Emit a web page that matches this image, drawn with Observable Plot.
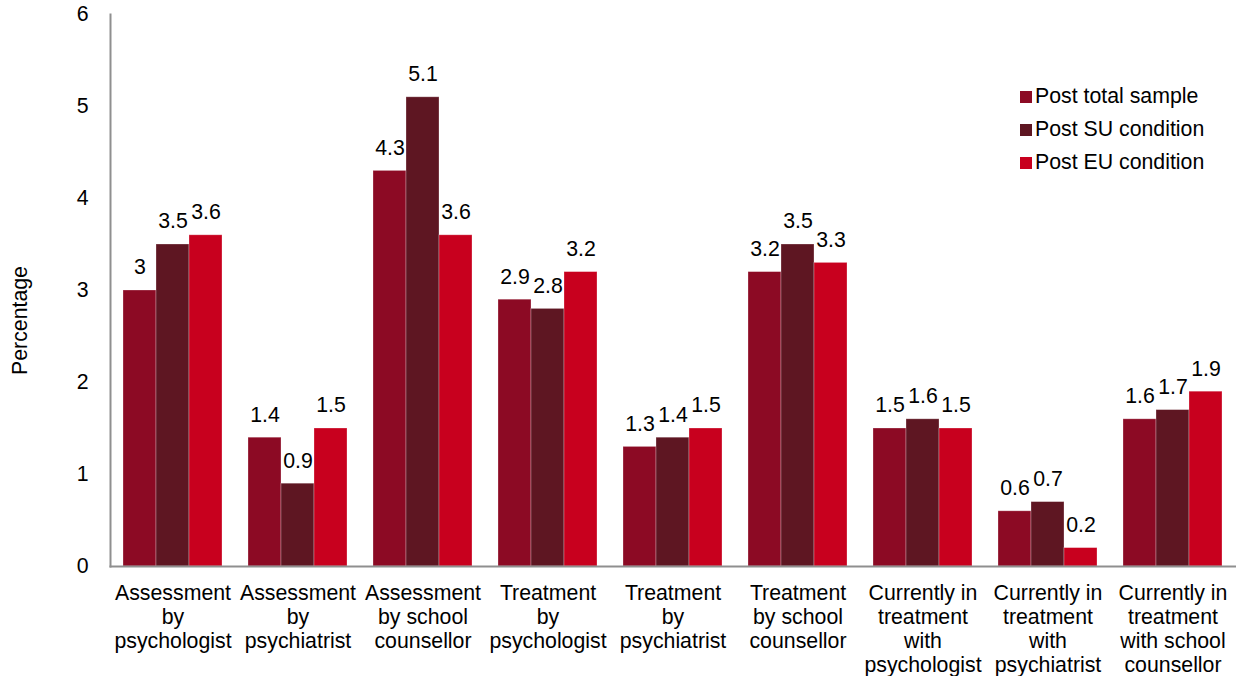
<!DOCTYPE html>
<html>
<head>
<meta charset="utf-8">
<script src="https://cdn.jsdelivr.net/npm/d3@7"></script>
<script src="https://cdn.jsdelivr.net/npm/@observablehq/plot@0.6"></script>
<style>
  body { margin: 0; background: #fff; }
  #wrap { position: relative; width: 1236px; height: 676px; font-family: "Liberation Sans", Arial, sans-serif; }
  .legend { position: absolute; left: 1020px; top: 80px; font-size: 21.3px; color: #000; }
  .legend .row { display: flex; align-items: center; height: 33px; }
  .legend .sw { width: 12px; height: 12px; margin-right: 3px; }
</style>
</head>
<body>
<div id="wrap"></div>
<script>
const categories = [
  "Assessment by psychologist",
  "Assessment by psychiatrist",
  "Assessment by school counsellor",
  "Treatment by psychologist",
  "Treatment by psychiatrist",
  "Treatment by school counsellor",
  "Currently in treatment with psychologist",
  "Currently in treatment with psychiatrist",
  "Currently in treatment with school counsellor"
];
const tickLabels = [
  "Assessment\nby\npsychologist",
  "Assessment\nby\npsychiatrist",
  "Assessment\nby school\ncounsellor",
  "Treatment\nby\npsychologist",
  "Treatment\nby\npsychiatrist",
  "Treatment\nby school\ncounsellor",
  "Currently in\ntreatment\nwith\npsychologist",
  "Currently in\ntreatment\nwith\npsychiatrist",
  "Currently in\ntreatment\nwith school\ncounsellor"
];
const seriesNames = ["Post total sample", "Post SU condition", "Post EU condition"];
const seriesColors = ["#8C0A24", "#5E1622", "#C8001E"];
const postTotal = [3, 1.4, 4.3, 2.9, 1.3, 3.2, 1.5, 0.6, 1.6];
const postSU    = [3.5, 0.9, 5.1, 2.8, 1.4, 3.5, 1.6, 0.7, 1.7];
const postEU    = [3.6, 1.5, 3.6, 3.2, 1.5, 3.3, 1.5, 0.2, 1.9];
const yTicks = [0, 1, 2, 3, 4, 5, 6];

const seriesValues = [postTotal, postSU, postEU];
const data = [];
categories.forEach((c, i) => {
  seriesNames.forEach((s, j) => data.push({category: c, series: s, value: seriesValues[j][i]}));
});
const labelOf = new Map(categories.map((c, i) => [c, tickLabels[i]]));

const plot = Plot.plot({
  width: 1236,
  height: 676,
  marginLeft: 108,
  marginRight: 0,
  marginTop: 14,
  marginBottom: 110,
  style: {fontFamily: "'Liberation Sans', Arial, sans-serif", fontSize: "21.3px", color: "#000", background: "#fff"},
  fx: {domain: categories, padding: 0, label: null},
  x: {domain: seriesNames, paddingInner: 0, paddingOuter: 0.375, axis: null},
  y: {domain: [0, 6], axis: null},
  color: {domain: seriesNames, range: seriesColors},
  marks: [
    Plot.barY(data, {fx: "category", x: "series", y: "value", fill: "series", stroke: "#ffffff", strokeOpacity: 0.35, strokeWidth: 0.8, inset: 0}),
    Plot.text(data, {fx: "category", x: "series", y: "value", text: "value", dy: -23, lineAnchor: "middle", textAnchor: "middle", fill: "#000"}),
    Plot.axisFx({anchor: "bottom", tickSize: 0, tickPadding: 16, lineHeight: 1.13, tickFormat: d => labelOf.get(d), label: null}),
    Plot.axisY({ticks: yTicks, tickSize: 0, tickPadding: 22, tickFormat: d => String(d), label: null}),
    Plot.frame({anchor: "bottom", stroke: "#8F8F8F", strokeWidth: 2, facet: "super"}),
    Plot.frame({anchor: "left", stroke: "#8F8F8F", strokeWidth: 2, facet: "super"}),
    Plot.text(["Percentage"], {frameAnchor: "left", textAnchor: "middle", lineAnchor: "middle", rotate: -90, dx: -90, dy: 30, fill: "#000", facet: "super"})
  ]
});

const wrap = document.getElementById("wrap");
wrap.appendChild(plot);

const legend = document.createElement("div");
legend.className = "legend";
seriesNames.forEach((s, i) => {
  const row = document.createElement("div");
  row.className = "row";
  const sw = document.createElement("div");
  sw.className = "sw";
  sw.style.background = seriesColors[i];
  const t = document.createElement("span");
  t.textContent = s;
  row.appendChild(sw);
  row.appendChild(t);
  legend.appendChild(row);
});
wrap.appendChild(legend);
</script>
</body>
</html>
